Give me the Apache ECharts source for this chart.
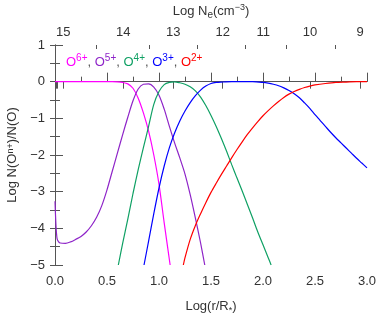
<!DOCTYPE html>
<html>
<head>
<meta charset="utf-8">
<script src="https://cdn.jsdelivr.net/npm/echarts@6/dist/echarts.min.js"></script>
<style>html,body{margin:0;padding:0;background:#fff;}#c{width:381px;height:313px;}</style>
</head>
<body>
<div id="c"></div>
<script>
// ---- data (log r/R*, log N(O^n+)/N(O)) ----
const ION_NAMES = ['O6+', 'O5+', 'O4+', 'O3+', 'O2+'];
const ION_SUP = ['6+', '5+', '4+', '3+', '2+'];
const ION_COLORS = ['#ff00ff', '#8e24c8', '#0fa064', '#0000ff', '#ff0000'];

const O6 = [[0,0],[0.2,0],[0.4,0],[0.5,0],[0.55,0],[0.6,-0.005],[0.65,-0.02],[0.7,-0.06],[0.75,-0.18],[0.8,-0.45],[0.85,-0.85],[0.9,-1.35],[0.95,-2.0],[1.0,-2.8],[1.05,-3.85],[1.107,-5]];
const O5 = [[0,-3.26],[0.01,-3.95],[0.02,-4.28],[0.035,-4.37],[0.05,-4.4],[0.1,-4.41],[0.15,-4.37],[0.2,-4.3],[0.25,-4.22],[0.3,-4.1],[0.35,-3.93],[0.4,-3.7],[0.45,-3.38],[0.5,-2.95],[0.55,-2.45],[0.6,-1.95],[0.65,-1.45],[0.7,-0.97],[0.75,-0.52],[0.8,-0.2],[0.85,-0.07],[0.9,-0.06],[0.95,-0.15],[1.0,-0.37],[1.05,-0.75],[1.1,-1.22],[1.15,-1.67],[1.2,-2.08],[1.25,-2.52],[1.3,-3.08],[1.35,-3.72],[1.4,-4.4],[1.44,-5]];
const O4 = [[0.609,-5],[0.65,-4.42],[0.7,-3.75],[0.75,-3.05],[0.8,-2.4],[0.85,-1.8],[0.9,-1.22],[0.95,-0.62],[1.0,-0.27],[1.05,-0.08],[1.1,-0.02],[1.15,-0.005],[1.2,-0.03],[1.25,-0.07],[1.3,-0.14],[1.35,-0.25],[1.4,-0.42],[1.45,-0.65],[1.5,-0.92],[1.55,-1.22],[1.6,-1.55],[1.65,-1.9],[1.7,-2.27],[1.75,-2.63],[1.8,-2.98],[1.85,-3.35],[1.9,-3.72],[1.95,-4.1],[2.0,-4.45],[2.05,-4.8],[2.078,-5]];
const O3 = [[0.856,-5],[0.9,-4.35],[0.95,-3.6],[1.0,-2.9],[1.05,-2.3],[1.1,-1.8],[1.15,-1.4],[1.2,-1.07],[1.25,-0.8],[1.3,-0.57],[1.35,-0.38],[1.4,-0.23],[1.45,-0.12],[1.5,-0.05],[1.55,-0.02],[1.6,-0.01],[1.7,0],[1.8,0],[1.9,0],[2.0,-0.02],[2.05,-0.04],[2.1,-0.07],[2.15,-0.11],[2.2,-0.17],[2.25,-0.24],[2.3,-0.33],[2.35,-0.44],[2.4,-0.58],[2.45,-0.73],[2.5,-0.9],[2.55,-1.06],[2.6,-1.22],[2.65,-1.38],[2.7,-1.53],[2.75,-1.67],[2.8,-1.81],[2.85,-1.95],[2.9,-2.09],[2.95,-2.22],[3.0,-2.35]];
const O2 = [[1.234,-5],[1.25,-4.8],[1.3,-4.3],[1.35,-3.92],[1.4,-3.6],[1.45,-3.3],[1.5,-3.02],[1.55,-2.77],[1.6,-2.53],[1.65,-2.3],[1.7,-2.07],[1.75,-1.85],[1.8,-1.64],[1.85,-1.44],[1.9,-1.26],[1.95,-1.09],[2.0,-0.93],[2.05,-0.79],[2.1,-0.66],[2.15,-0.54],[2.2,-0.43],[2.25,-0.34],[2.3,-0.27],[2.35,-0.21],[2.4,-0.16],[2.45,-0.12],[2.5,-0.09],[2.6,-0.05],[2.7,-0.02],[2.8,-0.01],[2.9,0],[3.0,0]];
const SERIES_DATA = [O6, O5, O4, O3, O2];

// top axis: log Ne labels and the log r where they fall
const NE_LABELS = ['15', '14', '13', '12', '11', '10', '9'];
const NE_POS = [0.080, 0.657, 1.138, 1.612, 2.003, 2.452, 2.933];
const NE_HALF_POS = [0.401, 0.904, 1.372, 1.827, 2.221, 2.692];
const NE_DENSE_POS = [0.004, 0.011, 0.018];

const FONT = 'Liberation Sans';
const TXT = '#333';
const AX = '#555';

function neLabel(v) {
  for (let i = 0; i < NE_POS.length; i++) if (Math.abs(NE_POS[i] - v) < 1e-6) return NE_LABELS[i];
  return '';
}
const minus = v => (v < 0 ? '\u2212' + (-v) : String(v));

// legend-like rich text
const rich = { c: { color: '#555', fontSize: 13, fontWeight: 'normal', fontFamily: FONT, lineHeight: 16, verticalAlign: 'bottom' } };
let legendText = '';
ION_NAMES.forEach((n, i) => {
  rich['b' + i] = { color: ION_COLORS[i], fontSize: 13, fontWeight: 'normal', fontFamily: FONT, lineHeight: 16, verticalAlign: 'bottom' };
  rich['s' + i] = { color: ION_COLORS[i], fontSize: 10, fontWeight: 'normal', fontFamily: FONT, lineHeight: 10, verticalAlign: 'top' };
  legendText += '{b' + i + '|O}{s' + i + '|' + ION_SUP[i] + '}' + (i < ION_NAMES.length - 1 ? '{c|, }' : '');
});

const axisCommon = {
  min: 0, max: 3,
  axisLine: { show: true, lineStyle: { color: AX, width: 1 } },
  splitLine: { show: false },
};

const chart = echarts.init(document.getElementById('c'), null, { renderer: 'canvas' });
chart.setOption({
  animation: false,
  backgroundColor: '#fff',
  title: {
    text: legendText, left: 66, top: 53, padding: 0,
    textStyle: { fontWeight: 'normal', rich: rich }
  },
  grid: { left: 55, right: 14, top: 45, bottom: 48, containLabel: false, outerBoundsMode: 'none' },
  xAxis: [
    Object.assign({}, axisCommon, {
      type: 'value', position: 'bottom', interval: 0.5,
      axisTick: { inside: true, length: 9, lineStyle: { color: AX } },
      minorTick: { show: true, splitNumber: 2, length: 5, lineStyle: { color: AX } },
      axisLabel: { color: TXT, fontSize: 13, fontFamily: FONT, margin: 10, formatter: v => v.toFixed(1) },
      name: 'Log(r/R{s|*})', nameLocation: 'middle', nameGap: 32,
      nameTextStyle: { color: TXT, fontSize: 13, fontFamily: FONT,
        rich: { s: { fontSize: 9, fontFamily: FONT, color: TXT, verticalAlign: 'bottom', lineHeight: 18 } } }
    }),
    Object.assign({}, axisCommon, {
      type: 'value', position: 'top',
      axisTick: { inside: true, length: 7, customValues: NE_POS.concat(NE_DENSE_POS), lineStyle: { color: AX } },
      axisLabel: { color: TXT, fontSize: 13, fontFamily: FONT, margin: 6, customValues: NE_POS, formatter: neLabel },
      name: 'Log N{e|e}(cm{u|\u22123})', nameLocation: 'middle', nameGap: 25,
      nameTextStyle: { color: TXT, fontSize: 13, fontFamily: FONT,
        rich: {
          e: { fontSize: 10, fontFamily: FONT, color: TXT, verticalAlign: 'bottom', lineHeight: 17 },
          u: { fontSize: 9, fontFamily: FONT, color: TXT, verticalAlign: 'top', lineHeight: 9 }
        } }
    }),
    Object.assign({}, axisCommon, {
      type: 'value', position: 'top',
      axisLine: { show: false },
      axisTick: { inside: true, length: 4, customValues: NE_HALF_POS, lineStyle: { color: AX } },
      axisLabel: { show: false }
    })
  ],
  yAxis: [
    {
      type: 'value', position: 'left', min: -5, max: 1, interval: 1,
      axisLine: { show: true, lineStyle: { color: AX } },
      splitLine: { show: false },
      axisTick: { inside: true, length: 8, lineStyle: { color: AX } },
      minorTick: { show: true, splitNumber: 2, length: 5, lineStyle: { color: AX } },
      axisLabel: { color: TXT, fontSize: 13, fontFamily: FONT, margin: 10, formatter: minus },
      name: 'Log N(O{s|n+})/N(O)', nameLocation: 'middle', nameGap: 36, nameRotate: 90,
      nameTextStyle: { color: TXT, fontSize: 13, fontFamily: FONT,
        rich: { s: { fontSize: 9, fontFamily: FONT, color: TXT, verticalAlign: 'top', lineHeight: 9 } } }
    },
    {
      type: 'value', position: 'right', min: -5, max: 1, interval: 1,
      axisLine: { show: true, lineStyle: { color: AX } },
      splitLine: { show: false },
      axisTick: { inside: true, length: 5, lineStyle: { color: AX } },
      minorTick: { show: true, splitNumber: 2, length: 5, lineStyle: { color: AX } },
      axisLabel: { show: false }
    }
  ],
  series: SERIES_DATA.map((d, i) => ({
    name: ION_NAMES[i], type: 'line', data: d, xAxisIndex: 0, yAxisIndex: 0,
    showSymbol: false, smooth: 0.3,
    lineStyle: { color: ION_COLORS[i], width: 1.2 },
    itemStyle: { color: ION_COLORS[i] },
    clip: true, z: 2 + i
  }))
});
</script>
</body>
</html>
